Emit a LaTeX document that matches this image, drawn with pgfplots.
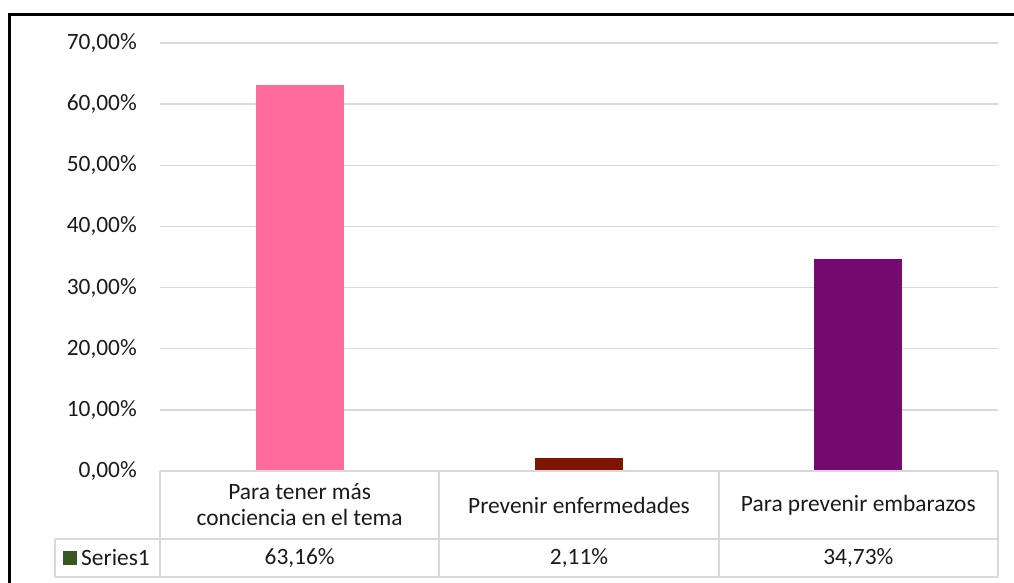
\documentclass[border=0pt]{standalone}
\usepackage{pgfplots}
\pgfplotsset{compat=1.18}
\usepackage{fontspec}
\setmainfont{Carlito}
\definecolor{gridc}{HTML}{D9D9D9}
\definecolor{tabc}{HTML}{D9D9D9}
\definecolor{cpink}{HTML}{FF6B9D}
\definecolor{cred}{HTML}{7D1600}
\definecolor{cpurple}{HTML}{750A70}
\definecolor{cgreen}{HTML}{385723}
\definecolor{txt}{HTML}{1A1A1A}
\begin{document}
\begin{tikzpicture}
\useasboundingbox (0bp,0bp) rectangle (1014bp,583bp);
\fontsize{23.4bp}{28bp}\selectfont
\begin{axis}[
  at={(160bp,112bp)}, anchor=south west,
  scale only axis, width=838bp, height=428bp,
  xmin=-0.5, xmax=2.5, ymin=0, ymax=70,
  xtick=\empty,
  ytick={0,10,20,30,40,50,60,70},
  yticklabels={{0,00\%},{10,00\%},{20,00\%},{30,00\%},{40,00\%},{50,00\%},{60,00\%},{70,00\%}},
  axis line style={draw=none},
  major tick length=0pt,
  ymajorgrids,
  grid style={gridc, line width=1.5bp},
  yticklabel style={inner sep=0pt, anchor=east, xshift=-23bp, text=txt, font=\fontsize{23.4bp}{28bp}\selectfont},
  /pgf/number format/assume math mode=true,
  clip=false,
]
\addplot[ybar, bar shift=0pt, bar width=88bp, fill=cpink, draw=none] coordinates {(0,63.16)};
\addplot[ybar, bar shift=0pt, bar width=88bp, fill=cred, draw=none] coordinates {(1,2.11)};
\addplot[ybar, bar shift=0pt, bar width=88bp, fill=cpurple, draw=none] coordinates {(2,34.73)};
\node[text=txt, align=center, font=\fontsize{23.4bp}{26bp}\selectfont] at (axis cs:0,0) [yshift=-34bp] {Para tener más\\conciencia en el tema};
\node[text=txt, font=\fontsize{23.4bp}{28bp}\selectfont] at (axis cs:1,0) [yshift=-34bp] {Prevenir enfermedades};
\node[text=txt, font=\fontsize{23.4bp}{28bp}\selectfont] at (axis cs:2,0) [yshift=-34bp] {Para prevenir embarazos};
\node[text=txt, font=\fontsize{23.4bp}{28bp}\selectfont] at (axis cs:0,0) [yshift=-87bp] {63,16\%};
\node[text=txt, font=\fontsize{23.4bp}{28bp}\selectfont] at (axis cs:1,0) [yshift=-87bp] {2,11\%};
\node[text=txt, font=\fontsize{23.4bp}{28bp}\selectfont] at (axis cs:2,0) [yshift=-87bp] {34,73\%};
\end{axis}
% table grid
\draw[tabc, line width=2bp] (160bp,112bp) -- (998bp,112bp);
\draw[tabc, line width=2bp] (55bp,44bp) -- (998bp,44bp);
\draw[tabc, line width=2bp] (55bp,6bp) -- (998bp,6bp);
\draw[tabc, line width=2bp] (55bp,6bp) -- (55bp,44bp);
\draw[tabc, line width=2bp] (160bp,6bp) -- (160bp,112bp);
\draw[tabc, line width=2bp] (439.3bp,6bp) -- (439.3bp,112bp);
\draw[tabc, line width=2bp] (718.7bp,6bp) -- (718.7bp,112bp);
\draw[tabc, line width=2bp] (998bp,6bp) -- (998bp,112bp);
\fill[cgreen] (63bp,18bp) rectangle (77bp,32bp);
\node[anchor=west, inner sep=0pt, text=txt] at (81bp,25bp) {Series1};
% outer border
\draw[black, line width=3bp] (9.5bp,0bp) -- (9.5bp,568.5bp) -- (1014bp,568.5bp);
\end{tikzpicture}
\end{document}
